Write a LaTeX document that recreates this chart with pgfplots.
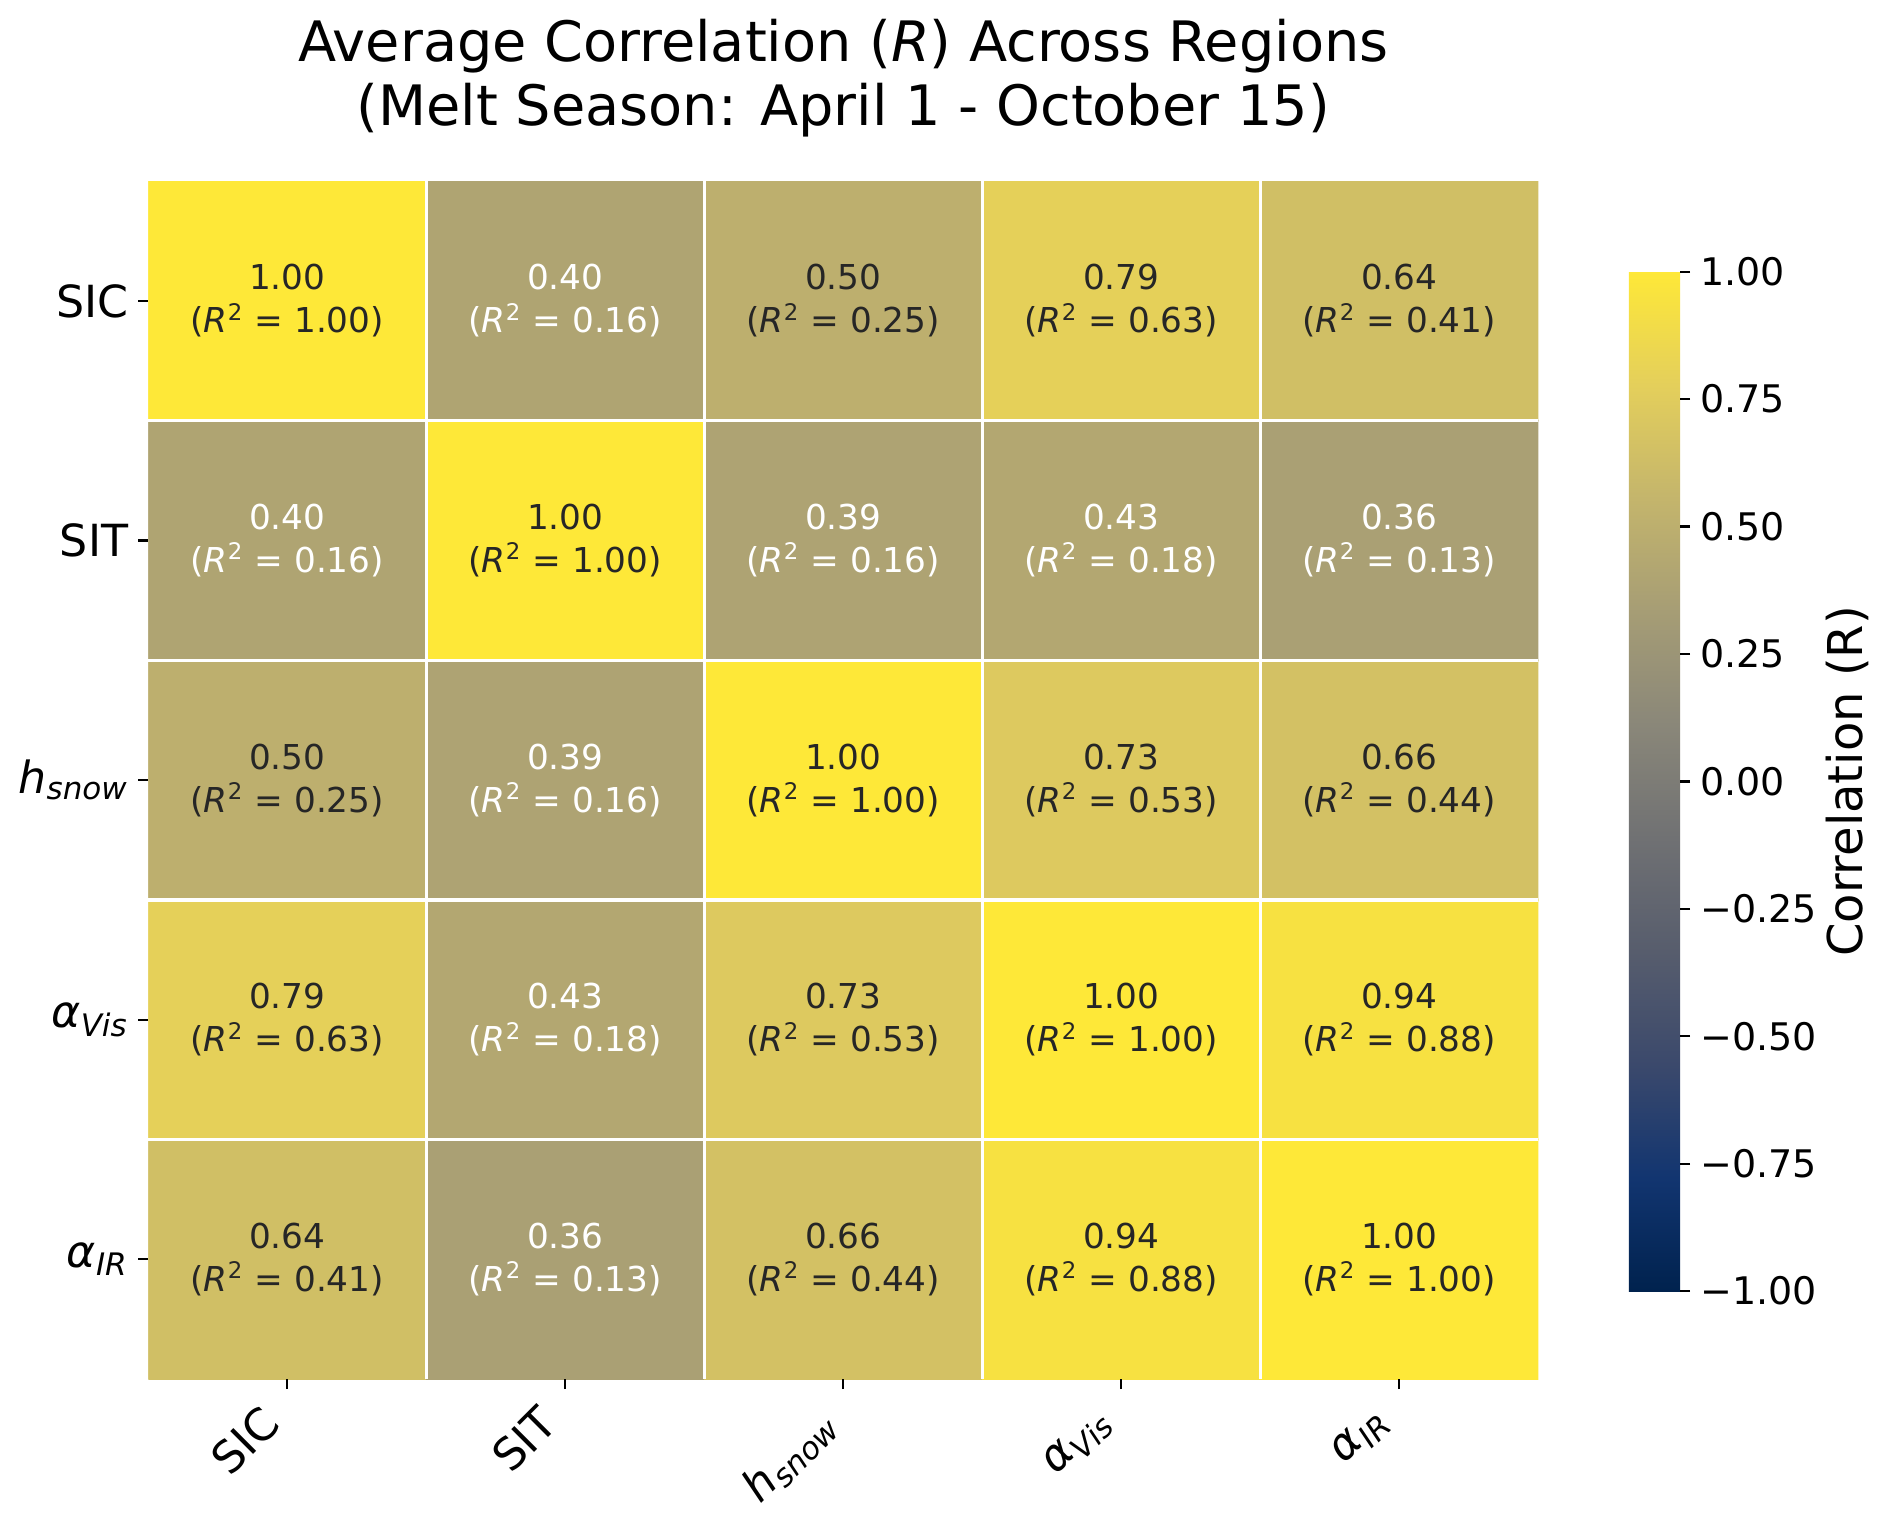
\documentclass[border=0pt]{standalone}
\usepackage{fontspec}
\setmainfont{DejaVu Sans}
\usepackage{pgfplots}
\pgfplotsset{compat=1.18}
\usepackage{pgfplotstable}

% cividis, sampled at 10 equal steps
\pgfplotsset{
  colormap={cividis}{
    rgb255=(0,34,78) rgb255=(18,53,112) rgb255=(59,73,108) rgb255=(87,93,109)
    rgb255=(112,113,115) rgb255=(138,135,121) rgb255=(166,157,117)
    rgb255=(196,181,108) rgb255=(228,207,91) rgb255=(254,232,56)
  }
}
\definecolor{darktext}{HTML}{262626}

% x = column (SIC..alpha_IR), y = 4 - row, r = correlation, rsq = R^2
\pgfplotstableread{
x y r rsq
0 4 1.00 1.00
1 4 0.40 0.16
2 4 0.50 0.25
3 4 0.79 0.63
4 4 0.64 0.41
0 3 0.40 0.16
1 3 1.00 1.00
2 3 0.39 0.16
3 3 0.43 0.18
4 3 0.36 0.13
0 2 0.50 0.25
1 2 0.39 0.16
2 2 1.00 1.00
3 2 0.73 0.53
4 2 0.66 0.44
0 1 0.79 0.63
1 1 0.43 0.18
2 1 0.73 0.53
3 1 1.00 1.00
4 1 0.94 0.88
0 0 0.64 0.41
1 0 0.36 0.13
2 0 0.66 0.44
3 0 0.94 0.88
4 0 1.00 1.00
}\corr

\newcommand{\hsnow}{\textit{h}\textsubscript{\textit{snow}}}
\newcommand{\avis}{\textit{α}\textsubscript{\textit{Vis}}}
\newcommand{\air}{\textit{α}\textsubscript{\textit{IR}}}

\begin{document}
\begin{tikzpicture}
\useasboundingbox (-51.9pt,-49.7pt) rectangle (610.3pt,482.7pt);
\begin{axis}[
  at={(0,0)}, anchor=south west,
  scale only axis, width=486.5pt, height=419.3pt,
  xmin=-0.5, xmax=4.5, ymin=-0.5, ymax=4.5,
  colormap name=cividis,
  point meta min=-1, point meta max=1,
  xtick={0,...,4}, ytick={0,...,4},
  xticklabels={SIC, SIT, \hsnow, \avis, \air},
  yticklabels={\air, \avis, \hsnow, SIT, SIC},
  tick pos=left,
  tick align=outside,
  major tick length=3.5pt,
  every tick/.style={black, line width=0.8pt},
  axis line style={draw=none},
  ticklabel style={font=\fontsize{15.5}{18}\selectfont},
  xticklabel style={xshift=-10pt, rotate=45, anchor=north east},
  minor xtick={0.5,1.5,2.5,3.5}, minor ytick={0.5,1.5,2.5,3.5},
  minor tick length=0pt,
  xminorgrids=true, yminorgrids=true,
  minor grid style={white, line width=1.1pt},
  axis on top,
  /pgf/number format/.cd, fixed, fixed zerofill, precision=2, assume math mode=true,
  /pgfplots/.cd,
  title={Average Correlation (\textit{R}) Across Regions\\(Melt Season: April 1 - October 15)},
  title style={align=center, font=\fontsize{19.5}{22.5}\selectfont,
    at={(0.5,1)}, anchor=south, inner sep=0pt, yshift=9.2pt},
  colorbar,
  colorbar/width=17.9pt,
  colorbar style={
    at={(parent axis.north east)}, anchor=north west,
    xshift=23.2pt, yshift=-31.7pt,
    scale only axis, height=356.8pt,
    axis line style={draw=none},
    ytick={-1,-0.75,-0.5,-0.25,0,0.25,0.5,0.75,1},
    yticklabels={−1.00,−0.75,−0.50,−0.25,0.00,0.25,0.50,0.75,1.00},
    ytick pos=right, yticklabel pos=right,
    tick align=outside, major tick length=3.5pt,
    every tick/.style={black, line width=0.8pt},
    yticklabel style={font=\fontsize{13.3}{16}\selectfont},
    ylabel={Correlation (R)},
    every axis y label/.style={at={(rel axis cs:1,0.5)}, xshift=58.5pt,
      rotate=90, anchor=center, font=\fontsize{16.8}{20}\selectfont},
  },
]
\addplot[matrix plot*, mesh/cols=5, point meta=explicit]
  table[x=x, y=y, meta=r]{\corr};

% annotations on light cells
\addplot[draw=none, mark=none, point meta=explicit,
  restrict expr to domain={\thisrow{r}}{0.45:1.1},
  visualization depends on={\thisrow{rsq} \as \rsq},
  nodes near coords={\pgfmathprintnumber{\pgfplotspointmeta}\\(\textit{R}\textsuperscript{2} = \pgfmathprintnumber{\rsq})},
  nodes near coords style={anchor=center, align=center, text=darktext,
    font=\fontsize{12}{15}\selectfont}]
  table[x=x, y=y, meta=r]{\corr};

% annotations on dark cells
\addplot[draw=none, mark=none, point meta=explicit,
  restrict expr to domain={\thisrow{r}}{-1.1:0.45},
  visualization depends on={\thisrow{rsq} \as \rsq},
  nodes near coords={\pgfmathprintnumber{\pgfplotspointmeta}\\(\textit{R}\textsuperscript{2} = \pgfmathprintnumber{\rsq})},
  nodes near coords style={anchor=center, align=center, text=white,
    font=\fontsize{12}{15}\selectfont}]
  table[x=x, y=y, meta=r]{\corr};
\end{axis}
\end{tikzpicture}
\end{document}
